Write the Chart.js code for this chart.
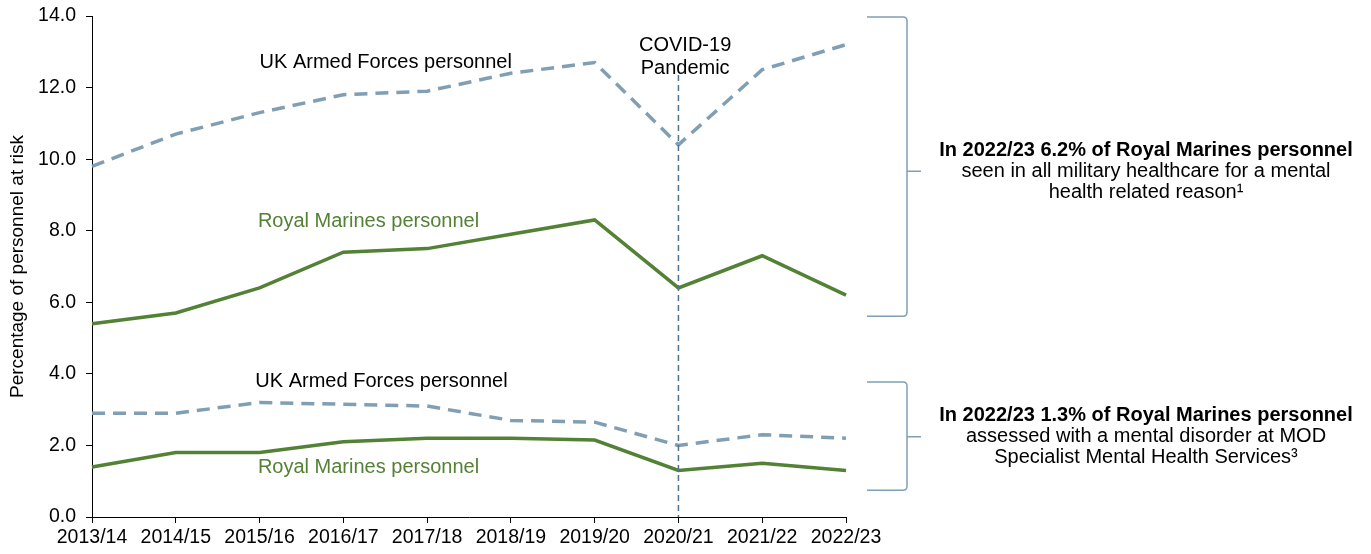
<!DOCTYPE html>
<html>
<head>
<meta charset="utf-8">
<script src="https://cdn.jsdelivr.net/npm/chart.js@4/dist/chart.umd.min.js"></script>
<style>
  html, body { margin: 0; padding: 0; background: #fff; }
  #wrap { width: 1371px; height: 554px; }
</style>
</head>
<body>
<div id="wrap"><canvas id="chart" width="1371" height="554"></canvas></div>
<script>
const years = ['2013/14', '2014/15', '2015/16', '2016/17', '2017/18', '2018/19', '2019/20', '2020/21', '2021/22', '2022/23'];

// seen in all military healthcare for a mental health related reason
const ukAfHealthcare = [9.8, 10.7, 11.3, 11.8, 11.9, 12.4, 12.7, 10.4, 12.5, 13.2];
const rmHealthcare = [5.4, 5.7, 6.4, 7.4, 7.5, 7.9, 8.3, 6.4, 7.3, 6.2];

// assessed with a mental disorder at MOD Specialist Mental Health Services
const ukAfSpecialist = [2.9, 2.9, 3.2, 3.15, 3.1, 2.7, 2.65, 2.0, 2.3, 2.2];
const rmSpecialist = [1.4, 1.8, 1.8, 2.1, 2.2, 2.2, 2.15, 1.3, 1.5, 1.3];

const blueGrey = '#809EB4';
const green = '#538135';
const font = '"Liberation Sans", Arial, sans-serif';

// labels placed next to the lines (x = category index, y = value)
const lineLabels = [
  { text: 'UK Armed Forces personnel', x: 2.0, y: 12.7, color: '#000' },
  { text: 'Royal Marines personnel', x: 1.98, y: 8.27, color: green },
  { text: 'UK Armed Forces personnel', x: 1.95, y: 3.8, color: '#000' },
  { text: 'Royal Marines personnel', x: 1.98, y: 1.37, color: green }
];

const covidIndex = 7;

// brackets on the right with their notes
const brackets = [
  { top: 13.97, bottom: 5.61, tick: 9.66,
    lines: ['In 2022/23 6.2% of Royal Marines personnel', 'seen in all military healthcare for a mental', 'health related reason¹'] },
  { top: 3.77, bottom: 0.75, tick: 2.24,
    lines: ['In 2022/23 1.3% of Royal Marines personnel', 'assessed with a mental disorder at MOD', 'Specialist Mental Health Services³'] }
];

const annotations = {
  id: 'annotations',
  afterDatasetsDraw(chart) {
    const ctx = chart.ctx;
    const x = chart.scales.x;
    const y = chart.scales.y;
    ctx.save();

    // COVID-19 marker line
    const cx = x.getPixelForValue(covidIndex);
    ctx.strokeStyle = '#4F7390';
    ctx.lineWidth = 1.5;
    ctx.setLineDash([6, 4]);
    ctx.beginPath();
    ctx.moveTo(cx, y.getPixelForValue(12.35));
    ctx.lineTo(cx, y.getPixelForValue(0));
    ctx.stroke();
    ctx.setLineDash([]);

    ctx.font = '20px ' + font;
    ctx.textBaseline = 'middle';
    ctx.fillStyle = '#000';
    ctx.textAlign = 'center';
    ctx.fillText('COVID-19', x.getPixelForValue(covidIndex + 0.08), y.getPixelForValue(13.18));
    ctx.fillText('Pandemic', x.getPixelForValue(covidIndex + 0.08), y.getPixelForValue(12.54));

    ctx.textAlign = 'left';
    lineLabels.forEach(l => {
      ctx.fillStyle = l.color;
      ctx.fillText(l.text, x.getPixelForValue(l.x), y.getPixelForValue(l.y));
    });

    // brackets
    const r = chart.chartArea.right;
    const bx0 = r + 21, bx = r + 61, tx = r + 75;
    ctx.strokeStyle = blueGrey;
    ctx.lineWidth = 1.5;
    brackets.forEach(b => {
      const t = y.getPixelForValue(b.top);
      const bt = y.getPixelForValue(b.bottom);
      const m = y.getPixelForValue(b.tick);
      ctx.beginPath();
      ctx.moveTo(bx0, t);
      ctx.lineTo(bx - 4, t);
      ctx.quadraticCurveTo(bx, t, bx, t + 4);
      ctx.lineTo(bx, bt - 4);
      ctx.quadraticCurveTo(bx, bt, bx - 4, bt);
      ctx.lineTo(bx0, bt);
      ctx.moveTo(bx, m);
      ctx.lineTo(tx, m);
      ctx.stroke();

      ctx.textAlign = 'center';
      ctx.fillStyle = '#000';
      const textX = r + 300;
      b.lines.forEach((line, i) => {
        ctx.font = (i === 0 ? 'bold ' : '') + '20px ' + font;
        ctx.fillText(line, textX, m - 21 + i * 21);
      });
    });
    ctx.restore();
  }
};

new Chart(document.getElementById('chart'), {
  type: 'line',
  data: {
    labels: years,
    datasets: [
      { label: 'UK Armed Forces personnel (healthcare)', data: ukAfHealthcare, borderColor: blueGrey, borderDash: [13, 8] },
      { label: 'Royal Marines personnel (healthcare)', data: rmHealthcare, borderColor: green },
      { label: 'UK Armed Forces personnel (specialist)', data: ukAfSpecialist, borderColor: blueGrey, borderDash: [13, 8] },
      { label: 'Royal Marines personnel (specialist)', data: rmSpecialist, borderColor: green }
    ]
  },
  options: {
    responsive: false,
    animation: false,
    layout: { padding: { top: 16, right: 525, bottom: 0, left: 0 } },
    elements: {
      line: { borderWidth: 3.5, tension: 0, fill: false },
      point: { radius: 0, hoverRadius: 0 }
    },
    plugins: {
      legend: { display: false },
      tooltip: { enabled: false }
    },
    scales: {
      x: {
        offset: false,
        grid: { drawOnChartArea: false, drawTicks: true, tickLength: 6, color: '#000' },
        border: { color: '#000', width: 1 },
        ticks: { color: '#000', font: { family: font, size: 19.5 }, padding: 3, maxRotation: 0, autoSkip: false },
        afterFit(scale) { scale.height = 37; scale.paddingLeft = 0; scale.paddingRight = 0; }
      },
      y: {
        min: 0,
        max: 14,
        grid: { drawOnChartArea: false, drawTicks: true, tickLength: 6, color: '#000' },
        border: { color: '#000', width: 1 },
        ticks: { stepSize: 2, color: '#000', font: { family: font, size: 19.5 }, padding: 10,
          callback: v => v.toFixed(1) },
        title: { display: true, text: 'Percentage of personnel at risk', color: '#000',
          font: { family: font, size: 19 }, padding: { top: 6, bottom: 0 } },
        afterFit(scale) { scale.width = 92; scale.paddingTop = 0; scale.paddingBottom = 0; }
      }
    }
  },
  plugins: [annotations]
});
</script>
</body>
</html>
